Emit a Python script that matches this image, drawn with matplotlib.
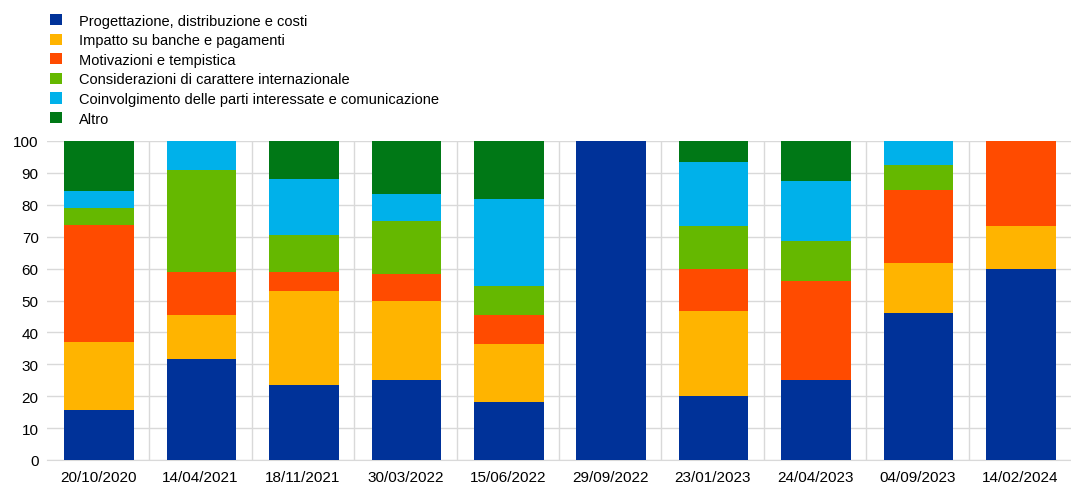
import matplotlib
matplotlib.use("Agg")
import matplotlib.pyplot as plt
import numpy as np
from matplotlib.patches import Patch

plt.rcParams['font.family'] = ['Liberation Sans', 'DejaVu Sans']

dates = ["20/10/2020", "14/04/2021", "18/11/2021", "30/03/2022", "15/06/2022",
         "29/09/2022", "23/01/2023", "24/04/2023", "04/09/2023", "14/02/2024"]
series_names = ["Progettazione, distribuzione e costi",
                "Impatto su banche e pagamenti",
                "Motivazioni e tempistica",
                "Considerazioni di carattere internazionale",
                "Coinvolgimento delle parti interessate e comunicazione",
                "Altro"]
progettazione = [15.8, 31.8, 23.5, 25.0, 18.2, 100.0, 20.0, 25.0, 46.2, 60.0]
impatto       = [21.1, 13.6, 29.4, 25.0, 18.2, 0.0, 26.7, 0.0, 15.4, 13.3]
motivazioni   = [36.8, 13.6, 5.9, 8.3, 9.1, 0.0, 13.3, 31.25, 23.1, 26.7]
internazionale= [5.3, 31.8, 11.8, 16.7, 9.1, 0.0, 13.3, 12.5, 7.7, 0.0]
coinvolgimento= [5.3, 9.2, 17.6, 8.3, 27.3, 0.0, 20.0, 18.75, 7.6, 0.0]
altro         = [15.7, 0.0, 11.8, 16.7, 18.1, 0.0, 6.7, 12.5, 0.0, 0.0]
colors = ["#003299", "#FFB400", "#FF4B00", "#65B800", "#00B1EA", "#007816"]

data = [progettazione, impatto, motivazioni, internazionale, coinvolgimento, altro]

fig = plt.figure(figsize=(10.71, 4.85), dpi=100)
ax = fig.add_axes([47/1071, 1-461/485, (1071-47)/1071, (461-142)/485])

x = np.arange(len(dates))
bottom = np.zeros(len(dates))
for vals, c in zip(data, colors):
    v = np.array(vals)
    ax.bar(x + 0.01, v, bottom=bottom, width=0.68, color=c, zorder=3, linewidth=0)
    bottom += v

ax.set_xlim(-0.5, len(dates) - 0.5)
ax.set_ylim(0, 100)
ax.set_yticks(np.arange(0, 101, 10))
ax.set_xticks(x)
ax.set_xticklabels(dates)
ax.tick_params(axis='both', length=0, labelsize=11, colors='#000000')
ax.tick_params(axis='x', pad=7)
ax.tick_params(axis='y', pad=6)
ax.grid(axis='y', color='#D9D9D9', linewidth=1, zorder=0)
ax.set_xticks(np.arange(0.5, len(dates) - 0.5, 1), minor=True)
ax.tick_params(axis='x', which='minor', length=0)
ax.grid(axis='x', which='minor', color='#D9D9D9', linewidth=1, zorder=0)
for s in ['top', 'right', 'left']:
    ax.spines[s].set_visible(False)
ax.spines['bottom'].set_color('#D9D9D9')

handles = [Patch(facecolor=c, edgecolor='none') for c in colors]
fig.legend(handles, series_names, loc='upper left', bbox_to_anchor=(44/1071, 1 - 9/485),
           frameon=False, fontsize=10.5, handlelength=0.8, handleheight=0.8,
           labelspacing=0.38, handletextpad=1.2, borderaxespad=0)

fig.savefig("out.png", dpi=100)
